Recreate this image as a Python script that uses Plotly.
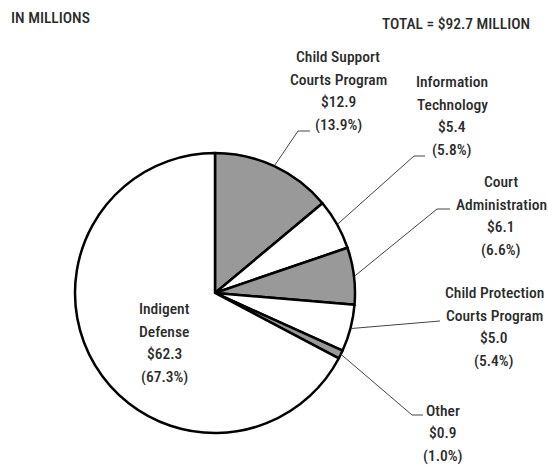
import math
import plotly.graph_objects as go

# data, clockwise from 12 o'clock
names = [["Child Support", "Courts Program"], ["Information", "Technology"],
         ["Court", "Administration"], ["Child Protection", "Courts Program"],
         ["Other"], ["Indigent", "Defense"]]
amounts = [12.9, 5.4, 6.1, 5.0, 0.9, 62.3]
shares = [13.9, 5.8, 6.6, 5.4, 1.0, 67.3]
fills = ["#999999", "#ffffff", "#999999", "#ffffff", "#999999", "#ffffff"]

W, H = 548, 466
CX, CY, R = 215, 293, 140  # pie centre / radius in pixels
FONT = "Roboto Condensed, Noto Sans Condensed, DejaVu Sans Condensed, sans-serif"
FS = 15.5
LH = 22.5  # line spacing of the labels
INK = "#2b2b2b"

# label block centre, leader elbow, leader end (pixels)
label_pos = [(338, 91), (452, 116), (501, 216), (494, 327), (443, 433), (164, 343)]
leaders = [((298, 131), (310, 131)), ((414, 156), (425, 156)),
           ((437, 209), (450, 209)), ((440, 321), (440, 321)),
           ((412, 415), (423, 415)), None]


def px(x):
    return x / W


def py(y):
    return (H - y) / H


def text_line(x, y, s, anchor="center"):
    fig.add_annotation(x=px(x), y=py(y), xref="paper", yref="paper",
                       text=s, showarrow=False, xanchor=anchor, yanchor="middle",
                       font=dict(family=FONT, size=FS, color=INK, weight=500))


fig = go.Figure(go.Pie(
    values=amounts,
    sort=False,
    direction="clockwise",
    rotation=0,
    textinfo="none",
    hoverinfo="skip",
    marker=dict(colors=fills, line=dict(color="black", width=2.5)),
    domain=dict(x=[px(CX - R), px(CX + R)], y=[py(CY + R), py(CY - R)]),
    showlegend=False,
))

total = sum(amounts)
cum = 0
for i, v in enumerate(amounts):
    mid = (cum + v / 2) / total * 2 * math.pi
    cum += v
    lines = names[i] + [f"${v:.1f}", f"({shares[i]:.1f}%)"]
    lx, ly = label_pos[i]
    for k, s in enumerate(lines):
        text_line(lx, ly + (k - (len(lines) - 1) / 2) * LH, s)
    if leaders[i] is None:
        continue
    sx = CX + (R + 1) * math.sin(mid)
    sy = CY - (R + 1) * math.cos(mid)
    (ex, ey), (fx, fy) = leaders[i]
    fig.add_shape(type="path", xref="paper", yref="paper",
                  path=f"M {px(sx)},{py(sy)} L {px(ex)},{py(ey)} L {px(fx)},{py(fy)}",
                  line=dict(color="#444444", width=1))

text_line(9, 18, "IN MILLIONS", "left")
text_line(532, 24, "TOTAL = $92.7 MILLION", "right")

fig.update_layout(
    width=W, height=H,
    margin=dict(l=0, r=0, t=0, b=0),
    paper_bgcolor="white",
    plot_bgcolor="white",
)

# drop the default page margin so the figure fills the window exactly
fig.write_html("out.html", config={"displayModeBar": False},
               post_script="document.body.style.margin = '0';")
